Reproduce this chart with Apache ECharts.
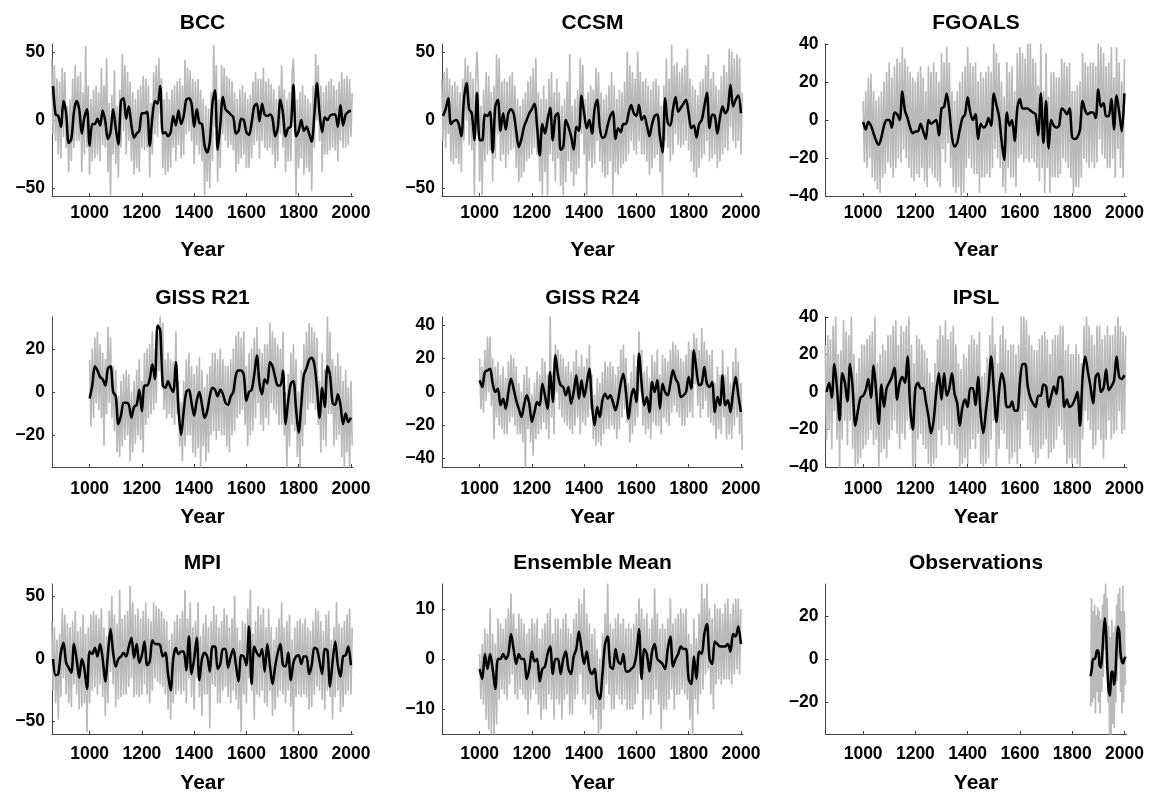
<!DOCTYPE html>
<html>
<head>
<meta charset="utf-8">
<title>Model panels</title>
<script src="https://cdn.jsdelivr.net/npm/echarts@6/dist/echarts.min.js"></script>
<style>
  html, body { margin: 0; padding: 0; background: #fff; }
  #chart { width: 1150px; height: 795px; }
</style>
</head>
<body>
<div id="chart"></div>
<script>
// ---------- data ----------
var PANEL_NAMES = ['BCC', 'CCSM', 'FGOALS', 'GISS R21', 'GISS R24', 'IPSL', 'MPI', 'Ensemble Mean', 'Observations'];
var X_TICKS = [1000, 1200, 1400, 1600, 1800, 2000];
var Y_LIMITS = [56, 56, 40, 35, 45, 40, 60, 15, 35];
var Y_TICKS = [
    [-50, 0, 50], [-50, 0, 50], [-40, -20, 0, 20, 40],
    [-20, 0, 20], [-40, -20, 0, 20, 40], [-40, -20, 0, 20, 40],
    [-50, 0, 50], [-10, 0, 10], [-20, 0, 20]
];

// first year and year step of each annual (grey) and smoothed (black) series
var RAW_START = [855, 855, 1000, 1000, 1000, 855, 855, 1000, 1871];
var RAW_STEP = [5, 5, 5, 5, 5, 5, 5, 5, 3];
var SMOOTH_START = [860, 860, 1000, 1000, 1000, 860, 860, 1000, 1870];
var SMOOTH_STEP = [10, 10, 10, 10, 10, 10, 10, 10, 5];

var bccRaw = [
    45,-10,40,-15,30,-25,28,-28,38,-12, 35,-20,10,-38,15,-30,30,-20,40,-15,
    32,-15,35,-38,20,-25,54,-20,25,-40, 15,-30,22,-28,25,-25,20,-30,38,-18,
    25,-20,45,-38,12,-55,18,-25,36,-32, 10,-42,22,-20,48,-8,40,-25,35,-15,
    28,-30,20,-40,15,-35,22,-38,25,-20, 32,-22,30,-20,25,-42,12,-25,35,-10,
    40,-12,45,5,30,-35,15,-40,20,-38, 15,-35,22,-20,25,-30,28,-18,30,-28,
    25,-25,44,-10,38,-8,36,-15,30,-32, 28,-18,30,-25,22,-30,15,-55,10,-45,
    8,-50,20,-30,55,-5,40,-45,15,-35, 40,-10,38,-15,32,-20,30,-18,28,-22,
    20,-38,15,-32,22,-28,25,-25,20,-35, 15,-35,18,-28,28,-18,35,-15,30,-28,
    30,-15,38,-20,28,-22,30,-20,26,-25, 22,-35,15,-30,25,-10,40,-20,22,-38,
    15,-30,20,-30,35,45,10,-55,15,-35, 20,-28,25,-40,18,-35,15,-38,12,-52,
    25,-20,48,0,40,-15,25,-38,20,-25, 25,-25,28,-22,30,-20,25,-22,22,-30,
    28,-15,35,-20,30,-20,32,-18,30,-12,20
];
var bccSmooth = [
    25,4,3,-5,14,5,-17,-14,6,14, 8,-10,2,8,-19,-3,-3,1,-4,7,
    -1,-14,-9,8,-6,-18,14,16,1,10, -4,-13,-10,-8,5,5,6,-19,2,14,
    12,25,-10,-9,-12,-9,3,-4,7,-3, 3,15,16,12,-5,8,-2,-3,-19,-24,
    -16,12,22,-22,-4,17,8,6,4,2, -10,-8,1,0,-9,-11,-2,10,12,-1,
    12,4,3,4,1,-12,-6,15,5,-12, -6,-5,26,-12,-8,0,-8,-5,-10,-16,
    4,27,5,-9,2,0,3,4,4,-5, 11,-4,4,6,7
];

var ccsmRaw = [
    30,-15,35,-20,38,-10,30,-30,25,-32, 28,-28,25,-32,20,-38,30,-15,45,0,
    40,-18,35,-22,30,-55,30,50,25,-45, 10,-55,22,-30,35,-25,32,-22,20,-45,
    25,-28,48,-10,45,-30,28,-25,30,-35, 28,-25,32,-22,35,-20,25,-35,15,-45,
    10,-42,15,-38,20,-30,28,-28,32,-25, 38,-20,45,-25,20,-45,15,-55,25,-38,
    15,-55,30,-25,35,-30,20,-45,30,-28, 20,-48,10,-55,15,-45,28,-30,48,-38,
    10,-48,15,-40,22,-35,45,-10,40,-25, 15,-55,20,-30,25,-35,22,-32,38,-15,
    35,-30,20,-38,15,-42,18,-40,25,-30, 35,-55,25,-38,15,-40,22,-35,20,-32,
    28,-30,50,-25,40,-15,35,-22,30,-25, 50,-15,35,-25,28,-25,30,-30,25,-40,
    22,-35,28,-28,30,-25,25,-38,10,-55, 25,-15,45,-20,30,-30,55,-25,40,-10,
    42,-18,35,-20,38,-18,40,-15,52,-22, 30,-30,25,-38,22,-42,18,-35,28,-28,
    30,-25,40,-15,48,-30,30,-28,35,-25, 25,-35,22,-30,32,-25,40,-20,35,-22,
    52,-5,50,-15,45,-20,48,-15,45,-25,20
];
var ccsmSmooth = [
    3,8,16,-3,-1,0,-3,-12,15,27, 8,5,-15,20,-15,-15,4,3,6,-24,
    10,15,-8,5,-7,5,8,5,-8,-20, -14,-5,0,5,8,12,-5,-26,-3,-10,
    0,9,-15,3,5,-22,-20,0,-5,-12, -22,-5,-8,18,5,-6,0,-10,8,15,
    -6,-13,-12,-4,3,6,-14,-6,-9,-3, -3,5,11,5,3,11,0,3,-4,-12,
    -3,3,4,-12,-24,16,-2,-4,8,17, 6,9,12,15,5,-6,-4,-13,-3,0,
    10,20,-6,4,3,-10,2,10,5,8, 26,10,15,18,5
];

var fgoalsRaw = [
    10,-22,15,-25,22,-20,24,-30,15,-32, 10,-36,12,-38,15,-30,20,-28,25,-22,
    30,-25,22,-30,28,-25,32,-20,30,-22, 38,-15,32,-20,28,-25,25,-30,22,-32,
    20,-28,25,-30,28,-25,22,-32,15,-35, 28,-25,25,-28,30,-30,25,-32,20,-35,
    35,-15,30,-22,38,-12,30,-25,15,-35, 10,-38,15,-35,20,-40,25,-38,28,-25,
    38,-20,30,-25,28,-28,30,-28,20,-38, 25,-30,22,-30,25,-28,28,-30,25,-25,
    40,-15,35,-20,30,-25,20,-35,12,-38, 30,-25,25,-30,28,-30,15,-35,35,-20,
    38,-18,35,-22,32,-20,40,-22,40,-20, 32,-22,30,-25,18,-32,40,-25,15,-38,
    35,-25,12,-38,25,-30,25,-30,22,-30, 22,-28,32,-20,30,-22,28,-25,30,-30,
    15,-38,15,-35,18,-35,20,-30,35,-20, 30,-22,28,-25,30,-22,30,-25,28,-22,
    40,-10,38,-18,35,-20,28,-25,30,-25, 38,-20,22,-30,38,-15,30,-25,20,-30,32
];
var fgoalsSmooth = [
    -1,-5,-1,-3,-7,-11,-13,-9,-3,0, 0,-4,4,3,0,15,5,1,-4,-7,
    -6,-6,-2,-6,-10,0,-2,-1,0,-8, 6,7,14,5,-9,-14,-12,-5,1,3,
    12,4,0,3,-10,-2,-4,-3,1,-3, 14,8,2,-11,-21,4,-3,0,-11,6,
    11,6,6,6,5,4,3,-8,14,-12, 10,-15,0,-3,-4,-3,6,5,3,6,
    -9,-10,-9,-5,10,5,3,4,4,1, 16,7,9,2,2,11,-5,13,4,-6,
    14
];

var gissR21Raw = [
    15,-16,20,-12,25,-5,28,-8,22,-12, 18,-25,15,-10,30,-5,25,-12,12,-18,
    10,-28,-2,-30,5,-25,8,-22,10,-20, 8,-32,0,-28,5,-24,10,-20,15,-22,
    5,-28,18,-15,20,-12,22,-10,28,-8, 20,-5,30,10,35,15,32,-8,15,-12,
    18,-10,15,-12,14,-15,28,-10,5,-25, -5,-32,5,-25,15,-20,18,-20,12,-28,
    8,-30,12,-26,16,-35,10,-25,2,-32, 8,-28,12,-20,18,-18,18,-22,15,-18,
    20,-20,15,-20,12,-25,12,-28,15,-20, 20,-18,26,-12,28,-10,25,-8,28,-15,
    12,-25,18,-20,20,-18,25,-12,30,-5, 20,-15,18,-18,22,-12,22,-15,32,-5,
    28,-8,25,-10,22,-15,20,-15,28,-20, 0,-35,8,-25,18,-15,22,-18,15,-30,
    0,-35,10,-25,22,-15,28,-8,32,-5, 30,-5,28,-8,25,-15,5,-28,18,-22,
    10,-25,35,-10,28,-10,15,-25,12,-22, 18,-20,12,-30,5,-35,10,-28,2,-35,5,-25
];
var gissR21Smooth = [
    -3,3,12,10,7,6,3,11,12,0, -2,-15,-11,-5,-5,-6,-12,-7,-6,1,
    -9,3,3,6,13,6,31,29,3,2, 5,2,0,14,-8,-20,-9,0,1,-5,
    -11,-4,0,-6,-12,-9,-2,2,1,-2, 1,-1,-5,-6,-2,0,8,10,10,8,
    -4,0,1,8,17,4,-1,6,4,14, 12,7,3,3,10,-15,-4,4,5,-8,
    -19,-6,8,11,15,16,13,2,-12,2, -7,12,8,-5,-6,-1,-6,-15,-10,-14,
    -12
];

var gissR24Raw = [
    20,-10,15,-12,25,-5,33,0,33,-8, 20,-28,15,-15,18,-20,10,-22,15,-25,
    8,-25,18,-18,22,-15,20,-20,15,-25, 5,-25,0,-30,10,-45,15,-22,8,-30,
    -2,-38,5,-28,12,-25,10,-22,20,-18, 18,-22,10,-28,45,-15,12,-25,28,0,
    25,-10,22,-15,20,-18,15,-20,18,-22, 12,-25,18,-20,25,-15,15,-25,22,-18,
    15,-20,20,-15,28,-10,10,-28,-2,-32, 8,-30,5,-32,12,-25,18,-22,15,-22,
    18,-20,15,-22,10,-28,15,-22,25,-15, 28,-10,20,-18,5,-30,12,-25,22,-20,
    15,-15,36,0,25,-20,12,-25,15,-22, 8,-28,22,-18,18,-20,25,-20,10,-25,
    22,-15,20,-18,18,-20,25,-12,30,-8, 28,-12,25,-15,20,-20,18,-20,22,-15,
    30,-12,25,-15,35,5,32,-8,25,-15, 38,-10,30,-5,25,-15,22,-18,25,-20,
    5,-28,15,-22,10,-25,25,-15,10,-28, 15,-25,5,-28,18,-20,26,-15,18,-25,5,-35
];
var gissR24Smooth = [
    7,3,12,13,14,5,0,2,-8,-4, -10,0,8,2,-5,-10,-15,-8,-2,-7,
    -18,-12,-6,-8,5,-2,-10,12,-6,22, 10,4,3,-2,3,-7,0,10,-4,7,
    -3,5,14,-8,-20,-9,-15,-5,-1,-4, -2,-6,-11,-5,5,11,0,-16,-3,2,
    -6,23,5,-8,-3,-12,6,0,7,-10, 5,0,-2,5,13,8,5,-3,-2,0,
    9,2,25,13,4,5,15,5,3,6, -12,-3,-8,10,-8,-5,-12,0,9,-2,
    -12
];

var ipslRaw = [
    25,-25,30,-20,28,-30,35,-10,40,-25, 20,-40,22,-25,38,-15,32,-28,30,-15,
    40,-30,20,-40,10,-38,18,-35,25,-30, 25,-28,28,-25,30,-20,32,-28,40,-25,
    15,-40,20,-32,25,-30,22,-35,30,-25, 30,-20,35,-15,38,-22,25,-30,35,-22,
    32,-25,35,-15,40,-20,25,-40,15,-38, 30,-25,28,-22,25,-28,22,-30,18,-38,
    10,-40,5,-38,15,-35,28,-20,35,-28, 30,-18,38,-20,28,-28,32,-22,35,-28,
    25,-30,15,-40,12,-38,20,-35,18,-38, 25,-30,30,-25,28,-30,25,-22,32,-38,
    8,-40,10,-38,18,-35,30,-25,40,-15, 25,-40,15,-30,30,-20,35,-22,28,-30,
    22,-38,25,-35,25,-32,20,-38,25,-30, 40,-15,40,-10,38,-20,30,-28,25,-32,
    22,-38,22,-35,28,-30,30,-28,32,-25, 28,-35,20,-32,28,-30,30,-25,30,-18,
    35,-20,35,-28,22,-38,25,-35,20,-38, 20,-35,25,-38,20,-40,15,-25,35,-10,
    40,-15,35,-20,30,-30,25,-28,35,-20, 35,-25,28,-35,30,-25,35,-15,30,-25,
    30,-22,35,-20,40,-10,35,-22,32,-20,30
];
var ipslSmooth = [
    0,5,-3,15,2,-15,10,5,-5,15, 2,-18,-10,-3,-2,1,7,-3,14,0,
    -17,4,-8,2,5,8,13,-4,5,8, 5,19,-8,-20,2,5,2,2,-5,-13,
    -22,-15,0,10,-4,10,-2,2,10,-1, -6,-18,-8,-4,-8,2,2,-7,8,-12,
    -22,-10,2,19,2,-16,0,10,5,-8, -8,-5,-10,-10,5,15,15,3,-3,-6,
    -8,-2,-2,4,3,-8,-2,3,-1,8, 8,-8,-4,-8,-7,-4,0,-18,8,19,
    11,3,-6,8,10,0,2,12,1,3, 6,19,8,7,9
];

var mpiRaw = [
    30,-25,25,-35,15,-48,20,-30,40,-15, 35,-28,28,-35,25,-38,30,-20,38,-28,
    22,-40,25,-38,35,-35,20,-58,25,-35, 35,-25,38,-22,35,-28,32,-20,40,-30,
    25,-45,18,-35,38,-10,50,-20,35,-38, 28,-32,55,-30,32,-28,35,-28,38,-22,
    58,-15,45,-30,35,-28,40,-30,32,-28, 38,-20,45,-28,32,-35,30,-25,45,-15,
    42,-18,40,-20,38,-22,32,-28,30,-40, 15,-48,20,-35,30,-28,35,-25,32,-28,
    38,-25,55,-35,32,-15,45,-30,25,-40, 30,-15,45,-30,18,-45,28,-28,35,-28,
    25,-55,30,-20,42,-22,35,-35,25,-35, 30,-25,40,-22,35,-30,25,-35,32,-25,
    50,-32,25,-40,15,-58,30,-28,28,-35, 40,-15,55,-25,20,-48,30,-28,42,-30,
    35,-25,40,-35,25,-38,40,-25,25,-45, 15,-40,25,-30,32,-25,45,-28,25,-35,
    30,-25,35,-38,15,-58,25,-30,30,-28, 32,-30,28,-28,32,-30,25,-40,22,-38,
    30,-28,40,-22,38,-25,30,-32,22,-40, 35,-25,38,-30,15,-48,25,-30,45,-25,
    28,-42,25,-38,30,-28,35,-25,40,-28,25
];
var mpiSmooth = [
    0,-13,-12,5,13,-3,-7,-11,12,0, -15,0,-8,-24,6,4,9,2,12,0,
    -18,4,24,5,-6,0,2,5,2,10, 17,1,12,-3,3,14,-5,-2,15,12,
    12,11,2,5,-12,-25,0,9,4,6, 6,-9,18,-12,0,17,-17,0,5,2,
    -10,10,10,-8,-4,8,8,-7,2,8, -5,-18,3,2,-5,26,-20,10,5,2,
    8,-10,12,-5,-20,-6,5,12,-5,-6, 5,-17,-3,2,3,-4,2,2,-12,-5,
    9,8,-2,-12,8,7,-22,-2,14,-5, -14,2,3,10,-5
];

var ensRaw = [
    1,-8,3,-9,6,-12,5,-14,10,-15, 5,-15,3,-13,8,-8,7,-6,6,-7,
    8,-8,10,-5,13,-3,9,-7,6,-8, 9,-6,8,-7,7,-8,5,-11,6,-8,
    8,-6,7,-7,8,-9,4,-12,6,-10, 7,-10,9,-7,10,-8,5,-12,8,-8,
    8,-9,6,-12,8,-8,9,-7,6,-11, 5,-11,8,-8,9,-7,12,-3,11,-8,
    14,-9,9,-7,7,-11,5,-12,6,-10, 2,-15,0,-14,5,-10,9,-5,15,-7,
    7,-10,6,-10,8,-7,9,-8,7,-9, 8,-8,6,-10,7,-10,6,-10,7,-9,
    9,-7,12,-3,10,-12,8,-8,9,-8, 6,-11,8,-8,14,-6,9,-9,6,-14,
    7,-10,6,-10,8,-8,12,-6,7,-10, 8,-7,9,-7,10,-6,9,-7,10,-8,
    5,-12,3,-15,8,-8,4,-11,9,-7, 15,-6,12,-3,15,-2,10,-7,8,-10,
    11,-5,10,-4,10,-5,9,-4,11,-4, 12,-4,9,-5,11,-3,12,-2,12,-3,10
];
var ensSmooth = [
    -2,-4,1,-2,1,-2,-6,0,0,1, 0,1,5,2,-1,1,0,0,-4,-2,
    1.5,-0.5,0,-4.5,-2,-1.5,1,2.5,-3,0, 0,-3,0,1.5,-2,-3,0.5,2,5.5,2,
    -1,1.5,-2,-3,-2,-6.5,-8,-3,3,4.5, -1.5,-2,2,-0.5,-1,1,-2.5,-2.5,-2,-1.5,
    1,6,-4,2,1,-2.5,1.5,3,0,-0.5, -1,-2,2,4.5,-1.5,0,1,2.5,2,2,
    -4,-5,0.5,-4,1.5,1,5,7,0,-1, 3.5,3,2.5,2.5,2.5,3,1.5,5,4.5,6.5,
    3
];

var obsRaw = [
    -22,28,-20,22,-18,25,-25,20,-15,24, -20,22,-25,18,-15,25,-8,30,5,35,
    -5,28,-20,15,-35,10,-35,18,-30,12, -32,15,-20,25,-10,30,0,33,-15,22,
    -25,34,-20,22,-12
];
var obsSmooth = [
    -8,-5,0,0,1,4,4,-3,-4,2, 12,19,12,-5,-15,-17,-6,-6,-12,-8,
    5,15,13,3,-1,-2,0,1
];

var RAW_SERIES = [bccRaw, ccsmRaw, fgoalsRaw, gissR21Raw, gissR24Raw, ipslRaw, mpiRaw, ensRaw, obsRaw];
var SMOOTH_SERIES = [bccSmooth, ccsmSmooth, fgoalsSmooth, gissR21Smooth, gissR24Smooth, ipslSmooth, mpiSmooth, ensSmooth, obsSmooth];

// ---------- layout ----------
var FONT = '"Liberation Sans", Arial, Helvetica, sans-serif';
var COL_LEFT = [52, 442, 825.5];
var GRID_WIDTH = 301;
var ROW_TOP = [44, 317, 584];
var ROW_HEIGHT = [152, 150, 150];
var TITLE_TOP = [12.5, 287.5, 553];
var X_LABEL_MARGIN = [8, 13, 11];
var X_NAME_GAP = [44, 40, 39];
var X_MIN = 856, X_MAX = 2008;

function to_pairs(start, step, vals){
    return vals.map(function (v, i) {
        return [start + i * step, v];
    });
}

function plain_number(v){
    return String(v).replace('-', '\u2212');
}

var option = {
    animation: false,
    backgroundColor: '#fff',
    title: [],
    grid: [],
    xAxis: [],
    yAxis: [],
    series: []
};

for (var i = 0; i < 9; i++) {
    var r = Math.floor(i / 3), c = i % 3;
    var lim = Y_LIMITS[i];

    option.title.push({
        text: PANEL_NAMES[i],
        left: COL_LEFT[c] + GRID_WIDTH / 2,
        top: TITLE_TOP[r],
        textAlign: 'center',
        padding: 0,
        textStyle: { fontFamily: FONT, fontSize: 21, fontWeight: 'bold', color: '#000' }
    });

    option.grid.push({
        left: COL_LEFT[c],
        top: ROW_TOP[r],
        width: GRID_WIDTH,
        height: ROW_HEIGHT[r],
        outerBoundsMode: 'none',
        containLabel: false
    });

    option.xAxis.push({
        type: 'value',
        gridIndex: i,
        min: X_MIN,
        max: X_MAX,
        name: 'Year',
        nameLocation: 'middle',
        nameGap: X_NAME_GAP[r],
        nameTextStyle: { fontFamily: FONT, fontSize: 21, fontWeight: 'bold', color: '#000' },
        axisLine: { show: true, onZero: false, lineStyle: { color: '#444', width: 1 } },
        axisTick: { show: true, inside: true, length: 3, customValues: X_TICKS, lineStyle: { color: '#444' } },
        axisLabel: {
            customValues: X_TICKS,
            margin: X_LABEL_MARGIN[r],
            formatter: plain_number,
            fontFamily: FONT, fontSize: 17.5, fontWeight: 'bold', color: '#000'
        },
        splitLine: { show: false }
    });

    option.yAxis.push({
        type: 'value',
        gridIndex: i,
        min: -lim,
        max: lim,
        axisLine: { show: true, onZero: false, lineStyle: { color: '#444', width: 1 } },
        axisTick: { show: true, inside: true, length: 3, customValues: Y_TICKS[i], lineStyle: { color: '#444' } },
        axisLabel: {
            customValues: Y_TICKS[i],
            margin: 7,
            formatter: plain_number,
            fontFamily: FONT, fontSize: 17.5, fontWeight: 'bold', color: '#000'
        },
        splitLine: { show: false }
    });

    option.series.push({
        type: 'line',
        name: PANEL_NAMES[i] + ' annual',
        xAxisIndex: i,
        yAxisIndex: i,
        data: to_pairs(RAW_START[i], RAW_STEP[i], RAW_SERIES[i]),
        symbol: 'none',
        lineStyle: { color: '#bababa', width: 1.7, join: 'round' },
        silent: true,
        z: 2
    });

    option.series.push({
        type: 'line',
        name: PANEL_NAMES[i] + ' smoothed',
        xAxisIndex: i,
        yAxisIndex: i,
        data: to_pairs(SMOOTH_START[i], SMOOTH_STEP[i], SMOOTH_SERIES[i]),
        symbol: 'none',
        smooth: 0.3,
        lineStyle: { color: '#000', width: 2.5 },
        silent: true,
        z: 3
    });
}

var chart = echarts.init(document.getElementById('chart'));
chart.setOption(option);
</script>
</body>
</html>
